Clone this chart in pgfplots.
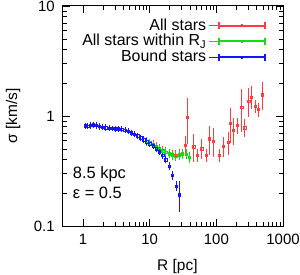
\documentclass[border=0pt]{standalone}
\usepackage{pgfplots}
\pgfplotsset{compat=1.18}
\usepackage{fontspec}
\setmainfont{Liberation Sans}
\definecolor{cred}{RGB}{255,60,60}
\definecolor{cgreen}{RGB}{20,220,20}
\definecolor{cblue}{RGB}{20,20,255}
\newcommand{\errimg}[1]{%
    \path (0bp,0bp) -- (56bp,0bp);
    \fill[#1] (10bp,-0.55bp) rectangle (56bp,0.55bp);
    \fill[#1] (9.45bp,-3.2bp) rectangle (10.55bp,3.2bp);
    \fill[#1] (55.45bp,-3.2bp) rectangle (56.55bp,3.2bp);
    \fill[#1] (32.45bp,-1.2bp) rectangle (33.55bp,1.2bp);}
\pgfplotsset{
  redleg/.style={legend image code/.code={\errimg{cred}}},
  greenleg/.style={legend image code/.code={\errimg{cgreen}}},
  blueleg/.style={legend image code/.code={\errimg{cblue}}},
}
\pgfplotstableread{
R s e
9.0 0.59 0.01
10 0.57 0.01
11.2 0.55 0.01
12.5 0.525 0.01
14 0.505 0.01
15.6 0.485 0.012
17.4 0.47 0.012
19.5 0.455 0.012
22 0.445 0.015
24.5 0.44 0.02
27.5 0.45 0.02
34 0.54 0.07
36.6 0.975 0.375
46 0.525 0.115
51.5 0.44 0.03
60 0.505 0.065
70 0.44 0.03
78 0.62 0.14
90 0.59 0.13
110 0.44 0.03
127 0.53 0.07
150 0.575 0.095
160 0.855 0.245
178 0.745 0.155
205 0.82 0.08
240 1.195 0.425
265 0.785 0.085
307 1.355 0.305
337 1.49 0.24
380 1.22 0.08
425 1.145 0.085
490 1.565 0.335
}\redtab
\pgfplotstableread{
R s e
9.0 0.590 0.010
10.0 0.565 0.010
11.2 0.545 0.010
12.5 0.520 0.010
14.0 0.500 0.010
15.6 0.480 0.012
17.4 0.470 0.012
19.5 0.455 0.012
22.0 0.440 0.015
24.5 0.430 0.018
27.5 0.445 0.018
31 0.455 0.020
35 0.450 0.020
39.5 0.420 0.025
}\greentab
\pgfplotstableread{
R s e
1.07 0.815 0.012
1.17 0.810 0.012
1.28 0.820 0.012
1.42 0.830 0.015
1.57 0.825 0.015
1.75 0.805 0.012
1.95 0.790 0.010
2.2 0.785 0.010
2.45 0.775 0.008
2.75 0.770 0.008
3.05 0.768 0.008
3.4 0.765 0.008
3.8 0.755 0.008
4.25 0.740 0.008
4.75 0.725 0.008
5.3 0.705 0.008
5.9 0.685 0.008
6.6 0.660 0.008
7.3 0.635 0.008
8.1 0.610 0.008
9.0 0.585 0.008
10.0 0.560 0.008
11.2 0.535 0.008
12.5 0.505 0.010
14.0 0.475 0.010
15.6 0.440 0.010
17.4 0.400 0.010
19.5 0.350 0.010
22.0 0.290 0.012
25.0 0.230 0.013
27.8 0.193 0.051
}\bluetab
\begin{document}
\fontsize{15.5}{17}\selectfont
\begin{tikzpicture}
\useasboundingbox (-63bp,-49bp) rectangle (237bp,226bp);
\begin{axis}[
  scale only axis, width=220bp, height=220bp,
  xmode=log, ymode=log,
  xmin=0.5, xmax=1000, ymin=0.1, ymax=10,
  xtick={1,10,100,1000}, xticklabels={1,10,100,1000},
  ytick={0.1,1,10}, yticklabels={0.1,1,10},
  /pgf/number format/assume math mode=true,
  tick align=inside,
  major tick length=7bp, minor tick length=4bp,
  axis line style={line width=1bp},
  every tick/.style={black, line width=0.6bp},
  xlabel={R [pc]}, ylabel={σ [km/s]},
  x label style={at={(axis description cs:0.52,-0.186)}, anchor=center},
  y label style={at={(axis description cs:-0.227,0.5)}, anchor=center},
  xticklabel style={yshift=-3bp, font=\fontsize{15}{17}\selectfont},
  yticklabel style={xshift=-3bp, font=\fontsize{15}{17}\selectfont},
  legend plot pos=right,
  legend cell align=right,
  legend style={at={(axis description cs:0.935,0.962)}, anchor=north east,
    draw=none, fill=none, row sep=-2bp, font=\fontsize{16}{18}\selectfont,
    nodes={inner sep=2bp}},
  error bars/y dir=both, error bars/y explicit,
]
\addplot+[redleg, color=cred, line width=0.8bp, only marks, mark=square, mark size=1.2bp,
  mark options={cred, line width=0.5bp, fill=none},
  error bars/error bar style={cred, line width=0.8bp},
  error bars/error mark options={cred, mark size=3.5bp, line width=0.8bp}]
  table[x=R, y=s, y error=e] {\redtab};
\addlegendentry{All stars}
\addplot+[greenleg, color=cgreen, line width=0.8bp, only marks, mark=square, mark size=1.2bp,
  mark options={cgreen, line width=0.5bp, fill=none},
  error bars/error bar style={cgreen, line width=0.8bp},
  error bars/error mark options={cgreen, mark size=3bp, line width=0.8bp}]
  table[x=R, y=s, y error=e] {\greentab};
\addlegendentry{All stars within R\textsubscript{J}}
\addplot+[blueleg, color=cblue, line width=0.8bp, only marks, mark=square, mark size=1.2bp,
  mark options={cblue, line width=0.5bp, fill=none},
  error bars/error bar style={cblue, line width=0.8bp},
  error bars/error mark options={cblue, mark size=2.5bp, line width=0.8bp}]
  table[x=R, y=s, y error=e] {\bluetab};
\addlegendentry{Bound stars}
\node[anchor=west, align=left, inner sep=0pt, font=\fontsize{16.5}{18}\selectfont] at (axis description cs:0.044,0.236) {8.5 kpc};
\node[anchor=west, align=left, inner sep=0pt, font=\fontsize{16.5}{18}\selectfont] at (axis description cs:0.044,0.15) {ε = 0.5};
\end{axis}
\end{tikzpicture}
\end{document}
